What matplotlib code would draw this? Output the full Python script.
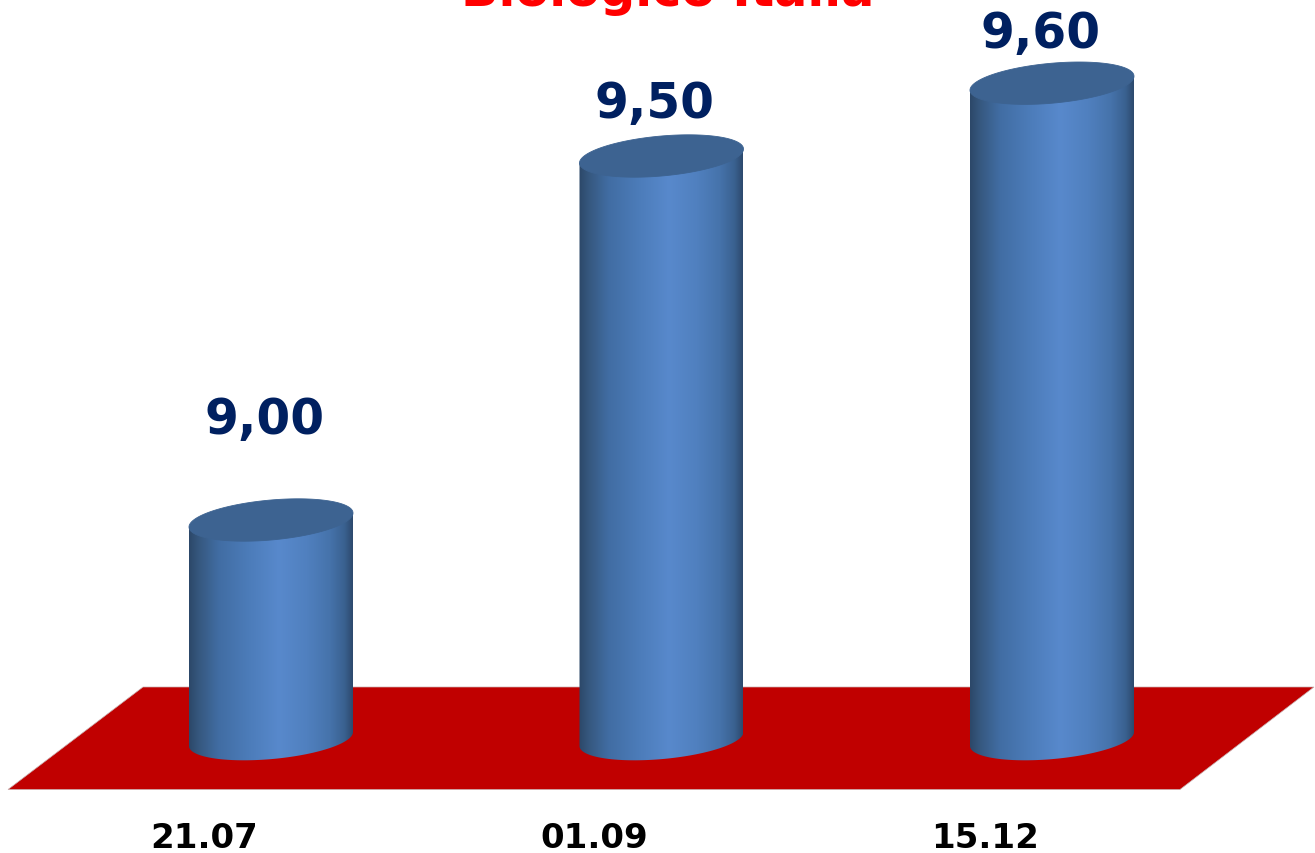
import numpy as np
import matplotlib
matplotlib.use("Agg")
import matplotlib.pyplot as plt
from matplotlib.colors import LinearSegmentedColormap
from matplotlib.patches import Polygon

# --- data ---
categories = ["21.07", "01.09", "15.12"]
values = [9.00, 9.50, 9.60]
value_labels = ["9,00", "9,50", "9,60"]
title = "Biologico Italia"

W, H = 1315, 854
AX_BOTTOM_PX = 791            # floor front edge
PX_PER_UNIT = 728.0           # vertical scale, px per value unit
PX_PER_CAT = 390.5            # horizontal scale, px per category
X0_PX = 271.0                 # px position of first category
Y9_PX = 528.0                 # px position of value 9.00 (left edge of the top)
BASE_VALUE = 8.699            # value where the cylinders start

fig = plt.figure(figsize=(W / 100, H / 100), dpi=100, facecolor="white")
ax = fig.add_axes([0, (H - AX_BOTTOM_PX) / H, 1, AX_BOTTOM_PX / H])
xlim = (-X0_PX / PX_PER_CAT, (W - X0_PX) / PX_PER_CAT)
ylim = (9 - (AX_BOTTOM_PX - Y9_PX) / PX_PER_UNIT, 9 + Y9_PX / PX_PER_UNIT)
for s in ax.spines.values():
    s.set_visible(False)
ax.set_yticks([])


def dx(px):
    return px / PX_PER_CAT


def dy(px):
    return px / PX_PER_UNIT


def fx(px):
    return (px - X0_PX) / PX_PER_CAT


def fy(py):
    return 9 + (Y9_PX - py) / PX_PER_UNIT


# floor
floor = Polygon(
    [(fx(143), fy(688)), (fx(1314), fy(688)), (fx(1180), fy(790.5)), (fx(8), fy(790.5))],
    closed=True, facecolor="#c00000", edgecolor="#c8b0b0", linewidth=0.5, zorder=1,
    clip_on=False,
)
ax.add_patch(floor)

# cylinder shading
cmap = LinearSegmentedColormap.from_list(
    "cyl",
    [(0.00, "#2c4869"), (0.06, "#36587f"), (0.18, "#416da3"),
     (0.38, "#4d7dbb"), (0.55, "#5889cc"), (0.72, "#5080bf"), (0.86, "#4673ab"),
     (0.95, "#3a6190"), (1.00, "#2d4a6e")],
)
grad = np.linspace(0, 1, 256).reshape(1, -1)

half_w = dx(82)
tilt = dy(7)
minor = dy(20)
t = np.linspace(0, 2 * np.pi, 181)


def ellipse(cx, cy):
    return cx + half_w * np.cos(t), cy + minor * np.sin(t) + tilt * np.cos(t)


for i, v in enumerate(values):
    left, right = i - half_w, i + half_w
    # v corresponds to the left edge of the top; ellipse centre is tilt above
    top_c = v + tilt
    base_c = BASE_VALUE + tilt
    # body outline: lower half of the base ellipse, then the upper edge
    tt = np.linspace(np.pi, 2 * np.pi, 91)
    bx = i + half_w * np.cos(tt)
    by = base_c + minor * np.sin(tt) + tilt * np.cos(tt)
    xs = np.concatenate([bx, [right, left]])
    ys = np.concatenate([by, [top_c + tilt, top_c - tilt]])
    body = Polygon(np.column_stack([xs, ys]), closed=True, transform=ax.transData,
                   facecolor="none", edgecolor="none")
    ax.add_patch(body)
    im = ax.imshow(grad, extent=[left, right, base_c - 2 * minor, top_c + 2 * minor],
                   cmap=cmap, aspect="auto", zorder=2, interpolation="bilinear")
    im.set_clip_path(body)
    ex, ey = ellipse(i, top_c)
    ax.fill(ex, ey, color="#3d6391", zorder=3, linewidth=0.6)

ax.set_xlim(*xlim)
ax.set_ylim(*ylim)

# value labels
label_dx = [-6, -7, -11]
label_dy = [94, 46, 43]
for i, (v, lab) in enumerate(zip(values, value_labels)):
    ax.text(i + dx(label_dx[i]), v + dy(label_dy[i]), lab, ha="center", va="baseline",
            fontsize=35, fontweight="bold", color="#002060", zorder=5,
            family="DejaVu Sans")

# category axis
ax.set_xticks(np.arange(len(categories)) + dx(-67))
ax.set_xticklabels(categories, fontsize=24.5, fontweight="bold", color="black",
                   family="DejaVu Sans")
ax.tick_params(axis="x", length=0, pad=22)

# title, cut off by the top of the picture as in the reference
fig.text(668 / W, 1 - 6 / H, title, ha="center", va="baseline", fontsize=35.5,
         fontweight="bold", color="#ff0000", family="DejaVu Sans")

fig.savefig("out.png", dpi=100, facecolor="white")
